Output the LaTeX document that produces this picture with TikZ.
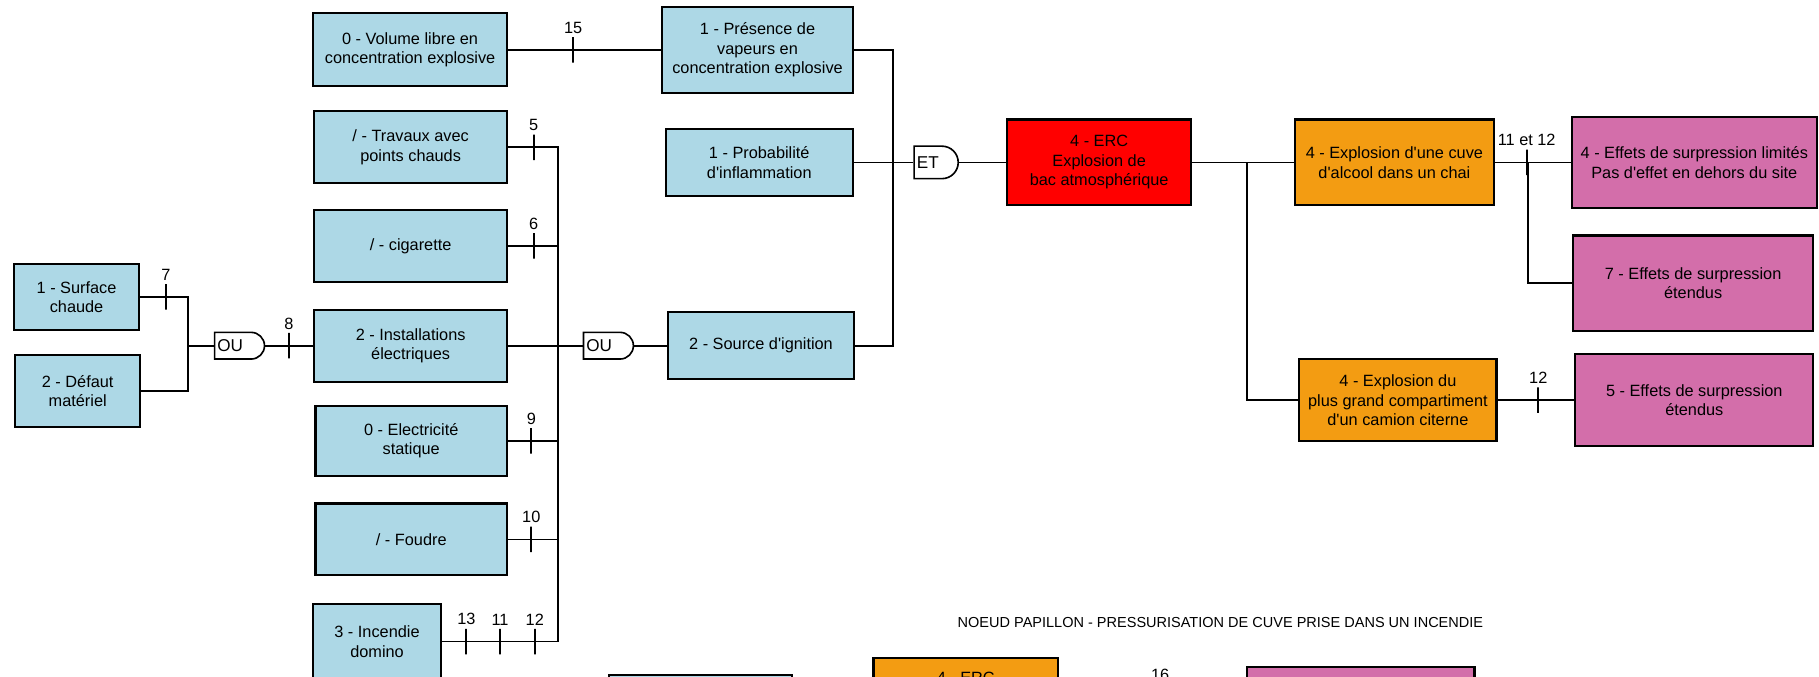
\documentclass[tikz,border=0pt]{standalone}
\usepackage{fontspec}
\setmainfont{Liberation Sans}[Ligatures=TeXOff]
\usetikzlibrary{shapes.misc,positioning}
\definecolor{causeBlue}{RGB}{173,216,230}
\definecolor{ercRed}{RGB}{255,0,0}
\definecolor{phdOrange}{RGB}{243,156,18}
\definecolor{effetPink}{RGB}{211,110,170}
\newcommand{\pxu}{0.025cm}
\tikzset{
  boite/.style={draw, line width=1.3pt, align=center, font=\fontsize{10}{12}\selectfont, inner sep=2pt},
  cause/.style={boite, fill=causeBlue},
  erc/.style={boite, fill=ercRed},
  phd/.style={boite, fill=phdOrange},
  effet/.style={boite, fill=effetPink},
  porte/.style={draw, line width=1pt, fill=white, rounded rectangle, rounded rectangle left arc=none, inner sep=0pt,
    label={[anchor=west, inner sep=2pt, font=\fontsize{10.5}{12}\selectfont]west:#1}},
  fil/.style={line width=1.1pt},
  barre/.style={draw, line width=1.1pt, minimum width=0pt, minimum height=22*\pxu, inner sep=0pt,
    label={[font=\fontsize{10}{11}\selectfont, inner sep=1.5pt]above:#1}},
}
\begin{document}
\begin{tikzpicture}[x=\pxu, y=-\pxu]
  \useasboundingbox (0,0) rectangle (1568,583);
  \clip (0,0) rectangle (1568,583);

  % causes
  \node[cause, minimum width=108*\pxu, minimum height=57*\pxu] (surf) at (66,256) {1 - Surface\\chaude};
  \node[cause, minimum width=108*\pxu, minimum height=62*\pxu] (defaut) at (67,337) {2 - Défaut\\matériel};
  \node[porte=OU, minimum width=43*\pxu, minimum height=23*\pxu] (ou1) at (206.5,298) {};

  \node[cause, minimum width=167*\pxu, minimum height=63*\pxu] (vol) at (353.5,43) {0 - Volume libre en\\concentration explosive};
  \node[cause, minimum width=166*\pxu, minimum height=62*\pxu] (trav) at (354,127) {/ - Travaux avec\\points chauds};
  \node[cause, minimum width=166*\pxu, minimum height=62*\pxu] (cig) at (354,212) {/ - cigarette};
  \node[cause, minimum width=166*\pxu, minimum height=62*\pxu] (inst) at (354,298) {2 - Installations\\électriques};
  \node[cause, minimum width=165*\pxu, minimum height=60*\pxu] (elec) at (354.5,380) {0 - Electricité\\statique};
  \node[cause, minimum width=165*\pxu, minimum height=62*\pxu] (foud) at (354.5,465) {/ - Foudre};
  \node[cause, minimum width=110*\pxu, minimum height=64*\pxu] (dom) at (325,553) {3 - Incendie\\domino};
  \node[porte=OU, minimum width=43*\pxu, minimum height=23*\pxu] (ou2) at (524.5,298) {};

  \node[cause, minimum width=164*\pxu, minimum height=74*\pxu] (pres) at (653,43) {1 - Présence de\\vapeurs en\\concentration explosive};
  \node[cause, minimum width=161*\pxu, minimum height=58*\pxu] (prob) at (654.5,140) {1 - Probabilité\\d'inflammation};
  \node[cause, minimum width=160*\pxu, minimum height=58*\pxu] (src) at (656,298) {2 - Source d'ignition};
  \node[porte=ET, minimum width=38*\pxu, minimum height=28*\pxu] (et) at (807,140) {};

  % evenement redoute
  \node[erc, minimum width=159*\pxu, minimum height=74*\pxu] (erc) at (947.5,140) {4 - ERC\\Explosion de\\bac atmosphérique};

  % phenomenes et effets
  \node[phd, minimum width=172*\pxu, minimum height=74*\pxu] (cuve) at (1202,140) {4 - Explosion d'une cuve\\d'alcool dans un chai};
  \node[phd, minimum width=170*\pxu, minimum height=71*\pxu] (camion) at (1205,345) {4 - Explosion du\\plus grand compartiment\\d'un camion citerne};
  \node[effet, minimum width=211*\pxu, minimum height=78*\pxu] (lim) at (1460.5,140) {4 - Effets de surpression limités\\Pas d'effet en dehors du site};
  \node[effet, minimum width=207*\pxu, minimum height=82*\pxu] (etendu7) at (1459.5,244) {7 - Effets de surpression\\étendus};
  \node[effet, minimum width=205*\pxu, minimum height=79*\pxu] (etendu5) at (1460.5,345) {5 - Effets de surpression\\étendus};

  % liaisons
  \coordinate (jOu1) at (162,298);
  \draw[fil] (surf.east) -| (jOu1);
  \draw[fil] (defaut.east) -| (jOu1);
  \draw[fil] (jOu1) -- (ou1.west);
  \draw[fil] (ou1.east) -- (inst.west);

  \coordinate (jOu2) at (481,298);
  \foreach \n in {trav,cig,elec,foud,dom} {
    \draw[fil] (\n.east) -| (jOu2);
  }
  \draw[fil] (inst.east) -- (ou2.west);
  \draw[fil] (ou2.east) -- (src.west);
  \draw[fil] (vol.east) -- (pres.west);

  \coordinate (jEt) at (770,140);
  \draw[fil] (pres.east) -| (jEt);
  \draw[fil] (src.east) -| (jEt);
  \draw[fil] (prob.east) -- (et.west);
  \draw[fil] (et.east) -- (erc.west);

  \coordinate (jErc) at (1075,140);
  \draw[fil] (erc.east) -- (cuve.west);
  \draw[fil] (jErc) |- (camion.west);
  \coordinate (jCuve) at (1317,140);
  \draw[fil] (cuve.east) -- (lim.west);
  \draw[fil] (jCuve) |- (etendu7.west);
  \draw[fil] (camion.east) -- (etendu5.west);

  % barrieres
  \node[barre=7] (b7) at (143,256) {};
  \node[barre=8] (b8) at (249,298) {};
  \node[barre=15] (b15) at (494,43) {};
  \node[barre=5] (b5) at (460,127) {};
  \node[barre=6] (b6) at (460,212) {};
  \node[barre=9] (b9) at (458,380) {};
  \node[barre=10] (b10) at (458,465) {};
  \node[barre=13] (b13) at (402,553) {};
  \node[barre=11] (b11) at (431,553) {};
  \node[barre=12] (b12a) at (461,553) {};
  \node[barre={11 et 12}] (b1112) at (1316,140) {};
  \node[barre=12] (b12b) at (1326,345) {};

  % second noeud papillon (coupe)
  \node[font=\fontsize{8.9}{10}\selectfont] (titre) at (1052,537) {NOEUD PAPILLON - PRESSURISATION DE CUVE PRISE DANS UN INCENDIE};
  \node[cause, minimum width=158*\pxu, minimum height=60*\pxu, anchor=north] (bas1) at (604,581) {};
  \node[phd, minimum width=159*\pxu, minimum height=74*\pxu, anchor=north,
    label={[anchor=north, inner sep=9pt, font=\fontsize{10}{12}\selectfont]north:4 - ERC}] (ercBas) at (832.5,566) {};
  \node[barre=16] (b16) at (1000,601) {};
  \node[effet, minimum width=196*\pxu, minimum height=80*\pxu, anchor=north] (effBas) at (1173,574) {};
\end{tikzpicture}
\end{document}
